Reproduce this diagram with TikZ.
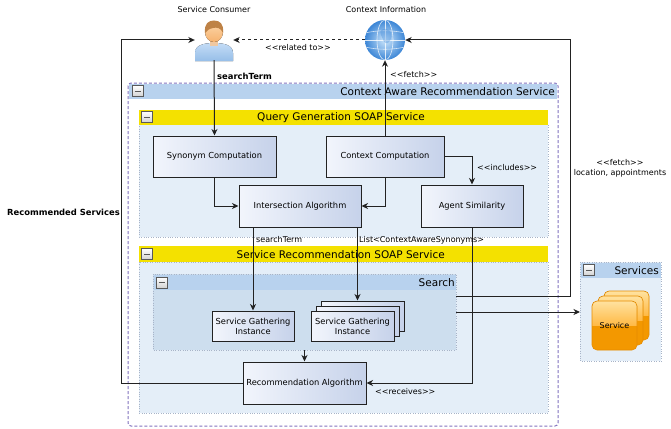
\documentclass[tikz,border=0pt]{standalone}
\usepackage{fontspec}
\setmainfont{DejaVu Sans}[Ligatures=TeXOff]
\usetikzlibrary{arrows.meta,shapes.geometric}
\definecolor{boxlight}{HTML}{F2F5FC}
\definecolor{boxdark}{HTML}{C6D2EA}
\definecolor{panelbody}{HTML}{E4EEF8}
\definecolor{panelhead}{HTML}{B8D2EE}
\definecolor{searchbody}{HTML}{CDDEEE}
\definecolor{soapyellow}{HTML}{F4E100}
\definecolor{outerline}{HTML}{8273BE}
\definecolor{dotline}{HTML}{A8B4C8}
\definecolor{linegray}{HTML}{222222}
\definecolor{shirttop}{HTML}{C4DCF6}
\definecolor{shirtbot}{HTML}{96BEE8}
\definecolor{neck}{HTML}{F0C8A0}
\definecolor{facetop}{HTML}{FCD6AA}
\definecolor{facebot}{HTML}{F6B26E}
\definecolor{hair}{HTML}{BE8246}
\definecolor{globeinner}{HTML}{CDE6FB}
\definecolor{globeouter}{HTML}{3C86D6}
\definecolor{svcorange}{HTML}{F39800}
\definecolor{svcedge}{HTML}{E68C00}
\definecolor{svctop}{HTML}{FFE2A0}
\definecolor{svcmid}{HTML}{FFBA46}
\tikzset{
  x=1pt, y=-1pt,
  compbox/.style={draw=linegray, line width=1pt, left color=boxlight, right color=boxdark,
    font=\fontsize{8.3}{10}\selectfont, align=center, inner sep=0pt},
  panel/.style={draw=dotline, dotted, fill=panelbody},
  headtext/.style={font=\fontsize{10.5}{12}\selectfont, anchor=east, inner sep=0pt},
  lbl/.style={font=\fontsize{8}{10}\selectfont, inner sep=0pt},
  boldlbl/.style={font=\bfseries\fontsize{8.4}{10}\selectfont, inner sep=0pt},
  arr/.style={draw=linegray, line width=1pt, -{Stealth[length=6.5pt,width=6pt,inset=2pt]}},
  minusbox/.style={draw=gray!70!black, line width=0.5pt, top color=white, bottom color=gray!35,
    minimum size=11pt, inner sep=0pt, path picture={\draw[line width=0.9pt] ([xshift=-3pt]path picture bounding box.center) -- ([xshift=3pt]path picture bounding box.center);}},
}
\begin{document}
\begin{tikzpicture}
\useasboundingbox (0,0) rectangle (671,428);

% outer service container
\draw[outerline, dash pattern=on 3pt off 2pt, line width=1pt, rounded corners=3pt, fill=white] (128,83) rectangle (558,426);
\fill[panelhead] (129,84) rectangle (557,98.5);
\node[minusbox] (m0) at (137.5,91) {};
\node[headtext] (outertitle) at (555,91.5) {Context Aware Recommendation Service};

% query generation panel
\draw[panel] (139,124) rectangle (548,237);
\fill[soapyellow] (139,109.5) rectangle (548,124.5);
\node[minusbox] (m1) at (147,117) {};
\node[headtext] (qgtitle) at (425,117.5) {Query Generation SOAP Service};

% service recommendation panel
\draw[panel] (139,262) rectangle (548,413);
\fill[soapyellow] (139,246) rectangle (548,262);
\node[minusbox] (m2) at (147,254) {};
\node[headtext] (srtitle) at (445,254.5) {Service Recommendation SOAP Service};

% search panel
\draw[draw=dotline, dotted, fill=searchbody] (153,274) rectangle (456,350);
\fill[panelhead] (153.5,274.5) rectangle (455.5,290);
\node[minusbox] (m3) at (161.5,282.5) {};
\node[headtext] (searchtitle) at (455,282.5) {Search};
\coordinate (searchE) at (456,312);
\coordinate (searchS) at (304.5,350);

% services panel
\draw[panel] (580,262) rectangle (661,361);
\fill[panelhead] (580.5,262.5) rectangle (660.5,278);
\node[minusbox] (m4) at (589,270) {};
\node[headtext] (svctitle) at (659,270.5) {Services};
\coordinate (svcW) at (580,312);

% component boxes
\node[compbox, minimum width=123, minimum height=41] (syn) at (214.5,156.5) {Synonym Computation};
\node[compbox, minimum width=118, minimum height=41] (ctx) at (385,156.5) {Context Computation};
\node[compbox, minimum width=122, minimum height=42] (inter) at (300,206) {Intersection Algorithm};
\node[compbox, minimum width=102, minimum height=42] (agent) at (472,206) {Agent Similarity};
\node[compbox, minimum width=82, minimum height=30] (sgi1) at (253,326) {Service Gathering\\Instance};
\node[compbox, minimum width=83, minimum height=30] (sgib) at (362.5,316) {};
\node[compbox, minimum width=83, minimum height=30] (sgim) at (357.5,321) {};
\node[compbox, minimum width=83, minimum height=30] (sgi2) at (352.5,326) {Service Gathering\\Instance};
\node[compbox, minimum width=123, minimum height=42] (rec) at (304.5,383) {Recommendation Algorithm};

% service consumer figure
\node[minimum width=38pt, minimum height=40pt, inner sep=0pt] (cons) at (214,40) {};
\fill[top color=shirttop, bottom color=shirtbot]
  (195,61) -- (195,53) .. controls (195,45) and (204,43) .. (214,43) .. controls (224,43) and (233,45) .. (233,53) -- (233,61) -- cycle;
\fill[neck] (210,40) rectangle (218,46);
\fill[top color=facetop, bottom color=facebot] (214,32) ellipse (9pt and 10pt);
\fill[hair] (205,33) .. controls (204,23) and (209,20.5) .. (214,20.5) .. controls (220,20.5) and (224,24) .. (223,33) .. controls (221,28) and (217,27) .. (213,28) .. controls (209,29) and (207,30) .. (205,33) -- cycle;
\node[lbl] (constitle) at (214,10) {Service Consumer};

% context information globe
\node[circle, minimum size=40pt, inner sep=0pt, inner color=globeinner, outer color=globeouter] (glob) at (385,40) {};
\begin{scope}
  \clip (385,40) circle (20pt);
  \draw[white, opacity=0.8, line width=0.6pt] (385,40) ellipse (8pt and 20pt);
  \draw[white, opacity=0.8, line width=0.6pt] (385,20) -- (385,60);
  \draw[white, opacity=0.8, line width=0.6pt] (365,40) -- (405,40);
  \draw[white, opacity=0.7, line width=0.6pt] (365,33) .. controls (378,30) and (392,30) .. (405,33);
  \draw[white, opacity=0.7, line width=0.6pt] (365,47) .. controls (378,50) and (392,50) .. (405,47);
  \fill[globeouter, opacity=0.35] (381,35) .. controls (378,30) and (384,27) .. (389,30) .. controls (393,33) and (392,40) .. (388,43) .. controls (384,45) and (383,39) .. cycle;
\end{scope}
\node[lbl] (globtitle) at (386,10) {Context Information};

% services icon: three stacked tiles
\foreach \dx/\dy in {12/-10, 6/-5, 0/0} {
  \begin{scope}[shift={(\dx,\dy)}]
    \fill[svcorange, rounded corners=5pt] (592,301) rectangle (637,350);
    \begin{scope}
      \clip[rounded corners=5pt] (592,301) rectangle (637,350);
      \fill[top color=svctop, bottom color=svcmid] (592,301) rectangle (637,325);
    \end{scope}
    \draw[svcedge, line width=0.6pt, rounded corners=5pt] (592,301) rectangle (637,350);
  \end{scope}
}
\node[lbl] (svcname) at (614.5,326) {Service};

% connectors
\draw[arr] (cons.south) -- (syn.north);
\draw[arr] (ctx.north) -- (glob.south);
\draw[arr, dashed] (glob.west) -- (cons.east);
\draw[arr] (syn.south) |- (inter.west);
\draw[arr] (ctx.south) |- (inter.east);
\draw[arr] (ctx.east) -| (agent.north);
\draw[arr] (sgi1.north |- inter.south) -- (sgi1.north);
\draw[arr] (sgim.north |- inter.south) -- (sgim.north |- sgib.north);
\draw[arr] (searchS) -- (rec.north);
\draw[arr] (rec.west) -- ++(-121,0) |- (cons.west);
\draw[arr] (agent.south) |- (rec.east);
\coordinate (fetchturn) at (570,296);
\draw[arr] (searchE |- fetchturn) -- (fetchturn) |- (glob.east);
\draw[arr] (searchE) -- (svcW);

% connector labels
\node[boldlbl, anchor=west] (stlbl) at (217,76) {searchTerm};
\node[lbl, anchor=west] (fetchlbl) at (390,75) {<<fetch>>};
\node[lbl] (rellbl) at (298,48) {<<related to>>};
\node[lbl, anchor=west] (inclbl) at (477,168) {<<includes>>};
\node[lbl, anchor=west] (st2lbl) at (256,240) {searchTerm};
\node[lbl, anchor=west] (listlbl) at (359,240) {List<ContextAwareSynonyms>};
\node[lbl, anchor=west] (reclbl) at (375,392) {<<receives>>};
\node[lbl, align=center] (fetch2lbl) at (620,168) {<<fetch>>\\location, appointments};
\node[boldlbl, anchor=east] (rslbl) at (120,212) {Recommended Services};
\end{tikzpicture}
\end{document}
